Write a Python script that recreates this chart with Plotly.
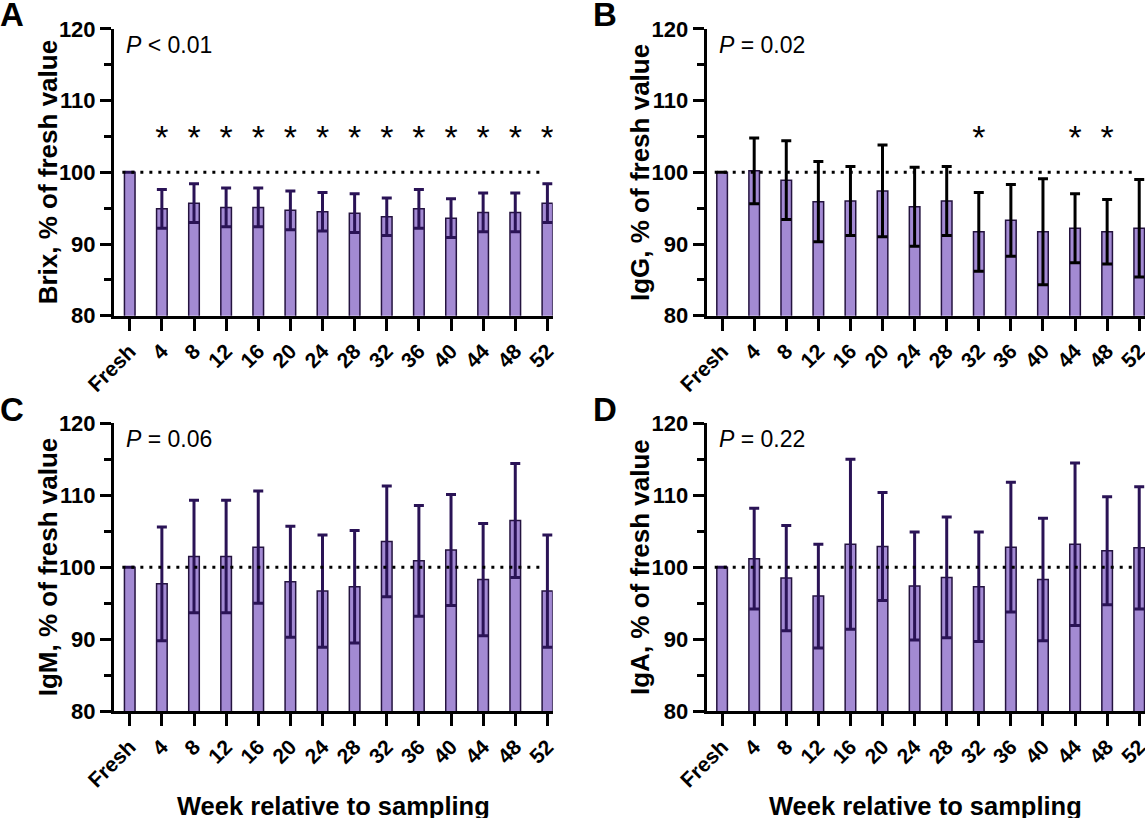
import plotly.graph_objects as go

# weeks relative to sampling
weeks = ["Fresh", "4", "8", "12", "16", "20", "24", "28", "32", "36", "40", "44", "48", "52"]

# mean (% of fresh value) and error (SD)
brix_mean = [100, 94.9, 95.7, 95.1, 95.1, 94.7, 94.5, 94.3, 93.8, 94.9, 93.6, 94.4, 94.4, 95.7]
brix_err = [None, 2.7, 2.7, 2.7, 2.7, 2.7, 2.7, 2.7, 2.6, 2.7, 2.7, 2.7, 2.7, 2.7]
igg_mean = [100, 100.2, 98.9, 95.9, 96.0, 97.4, 95.2, 96.0, 91.7, 93.3, 91.7, 92.2, 91.7, 92.2]
igg_err = [None, 4.6, 5.5, 5.6, 4.8, 6.4, 5.5, 4.8, 5.5, 5.0, 7.4, 4.8, 4.5, 6.8]
igm_mean = [100, 97.7, 101.5, 101.5, 102.8, 98.0, 96.7, 97.3, 103.6, 100.9, 102.4, 98.3, 106.5, 96.7]
igm_err = [None, 7.9, 7.8, 7.8, 7.8, 7.7, 7.8, 7.8, 7.7, 7.7, 7.7, 7.8, 7.9, 7.8]
iga_mean = [100, 101.2, 98.5, 96.0, 103.2, 102.9, 97.4, 98.6, 97.3, 102.8, 98.3, 103.2, 102.3, 102.7]
iga_err = [None, 7.0, 7.3, 7.2, 11.8, 7.5, 7.5, 8.4, 7.6, 9.0, 8.5, 11.3, 7.5, 8.5]

# weeks flagged with * (different from fresh)
brix_sig = ["4", "8", "12", "16", "20", "24", "28", "32", "36", "40", "44", "48", "52"]
igg_sig = ["32", "44", "48"]
igm_sig = []
iga_sig = []

p_labels = ["<i>P</i> &lt; 0.01", "<i>P</i> = 0.02", "<i>P</i> = 0.06", "<i>P</i> = 0.22"]
y_titles = ["Brix, % of fresh value", "IgG, % of fresh value", "IgM, % of fresh value", "IgA, % of fresh value"]
panel_letters = ["A", "B", "C", "D"]

W, H = 1145, 818
FONT = "Liberation Sans, Arial, sans-serif"
BAR_FILL = "#A38AD3"
BAR_LINE = "#24133F"
ERR_PURPLE = "#2A1356"

# pixel geometry of the four panels: (x0, x1, y_top, y_bottom, x range)
panels = [
    (114, 552.7, 28.9, 315.7, [-0.49, 13.165]),
    (706.7, 1145, 28.9, 315.7, [-0.48, 13.18]),
    (114, 552.7, 423.3, 711.3, [-0.49, 13.165]),
    (706.7, 1145, 423.3, 711.3, [-0.48, 13.18]),
]

series = [
    (brix_mean, brix_err, brix_sig, ERR_PURPLE),
    (igg_mean, igg_err, igg_sig, "black"),
    (igm_mean, igm_err, igm_sig, ERR_PURPLE),
    (iga_mean, iga_err, iga_sig, ERR_PURPLE),
]

fig = go.Figure()
annotations = []
shapes = []

for i, ((mean, err, sig, ecol), (px0, px1, pyt, pyb, xr)) in enumerate(zip(series, panels)):
    n = "" if i == 0 else str(i + 1)
    xa, ya = "x" + n, "y" + n
    fig.add_trace(go.Bar(
        x=weeks, y=mean, xaxis=xa, yaxis=ya, width=0.33,
        marker=dict(color=BAR_FILL, line=dict(color=BAR_LINE, width=1.5)),
        error_y=dict(type="data", array=err, visible=True, color=ecol, thickness=3, width=5),
        showlegend=False, cliponaxis=True,
    ))
    if sig:
        fig.add_trace(go.Scatter(
            x=sig, y=[104.4] * len(sig), xaxis=xa, yaxis=ya, mode="text", text=["*"] * len(sig),
            textfont=dict(family=FONT, size=34, color="black"), showlegend=False,
        ))

    dom_x = [px0 / W, min(px1 / W, 1.0)]
    dom_y = [1 - pyb / H, 1 - pyt / H]
    fig.layout["xaxis" + n] = dict(
        domain=dom_x, anchor=ya, type="category", range=xr, automargin=False,
        showline=True, linecolor="black", linewidth=3, mirror=False,
        ticks="outside", ticklen=12, tickwidth=3, tickcolor="black",
        tickangle=-45, tickfont=dict(family=FONT, size=21, color="black", weight="bold"),
        showgrid=False, zeroline=False, fixedrange=True,
    )
    fig.layout["yaxis" + n] = dict(
        domain=dom_y, anchor=xa, range=[80, 120], automargin=False,
        tickvals=[80, 90, 100, 110, 120],
        showline=True, linecolor="black", linewidth=3,
        ticks="outside", ticklen=11, tickwidth=3, tickcolor="black",
        minor=dict(dtick=5, ticks="outside", ticklen=7, tickwidth=3, tickcolor="black", showgrid=False),
        tickfont=dict(family=FONT, size=22, color="black", weight="bold"),
        showgrid=False, zeroline=False, fixedrange=True,
    )

    # dotted reference line at 100 %
    shapes.append(dict(type="line", xref=xa, yref=ya, x0=-0.23, x1=12.77, y0=100, y1=100,
                       line=dict(color="black", width=3, dash="3px,6px")))

    # y title
    annotations.append(dict(text=y_titles[i], xref="paper", yref="paper",
                            x=(px0 - 66) / W, y=1 - (pyt + pyb) / 2 / H, textangle=-90,
                            xanchor="center", yanchor="middle",
                            showarrow=False, font=dict(family=FONT, size=26, color="black", weight="bold")))
    # P value
    annotations.append(dict(text=p_labels[i], xref="paper", yref="paper",
                            x=(px0 + 10) / W, y=1 - (pyt + 16) / H, xanchor="left", yanchor="middle",
                            showarrow=False, font=dict(family=FONT, size=23, color="black")))
    # panel letter
    annotations.append(dict(text="<b>%s</b>" % panel_letters[i], xref="paper", yref="paper",
                            x=(px0 - 116) / W,
                            y=1 - (pyt - 14) / H, xanchor="left", yanchor="middle",
                            showarrow=False, font=dict(family=FONT, size=33, color="black")))

# x titles under bottom panels
for px0, px1 in [(114, 552.7), (706.7, 1145)]:
    annotations.append(dict(text="Week relative to sampling", xref="paper", yref="paper",
                            x=(px0 + px1) / 2 / W, y=1 - 806 / H, xanchor="center", yanchor="middle",
                            showarrow=False, font=dict(family=FONT, size=25.5, color="black", weight="bold")))

fig.update_layout(
    width=W, height=H,
    margin=dict(l=0, r=0, t=0, b=0),
    paper_bgcolor="white", plot_bgcolor="white",
    annotations=annotations, shapes=shapes,
    bargap=0.5,
)

# the page body has a default 8px margin; drop it so the figure fills the window
fig.write_html("out.html", config={"displayModeBar": False},
               post_script="document.body.style.margin='0';")
